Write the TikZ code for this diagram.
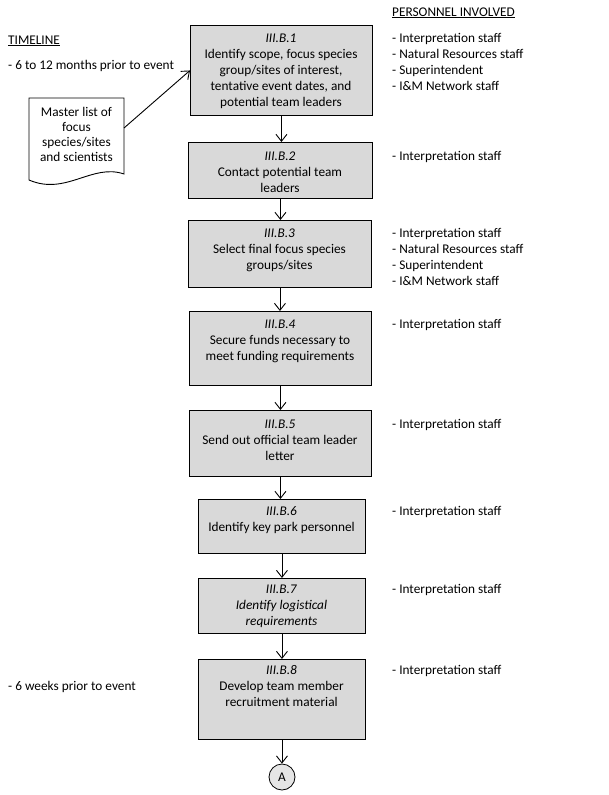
\documentclass[tikz,border=0pt]{standalone}
\usepackage{fontspec}
\setmainfont{Carlito}
\usetikzlibrary{arrows.meta}
\begin{document}
\begin{tikzpicture}[x=1pt,y=-1pt,
  every node/.style={font=\fontsize{13.3}{16}\selectfont, inner sep=0pt},
  box/.style={draw, line width=0.9pt, fill=black!15, anchor=north west},
  btxt/.style={anchor=north, align=center},
  ltxt/.style={anchor=north west, align=left},
  arr/.style={line width=0.9pt, -{Straight Barb[length=7pt,width=11pt]}}]
\useasboundingbox (0,0) rectangle (609,795);
% boxes
\node[box, minimum width=182, minimum height=90] (b1) at (190,25) {};
\node[box, minimum width=184, minimum height=56] (b2) at (188,142) {};
\node[box, minimum width=183, minimum height=67] (b3) at (188,220) {};
\node[box, minimum width=182, minimum height=74] (b4) at (189,311) {};
\node[box, minimum width=182, minimum height=66] (b5) at (189,410) {};
\node[box, minimum width=167, minimum height=54] (b6) at (198,499) {};
\node[box, minimum width=167, minimum height=55] (b7) at (198,578) {};
\node[box, minimum width=167, minimum height=80] (b8) at (198,659) {};
% box texts
\node[btxt] (t1) at (281,30.8) {\strut\textit{III.B.1}\\Identify scope, focus species\\group/sites of interest,\\tentative event dates, and\\potential team leaders};
\node[btxt] (t2) at (280,148.8) {\strut\textit{III.B.2}\\Contact potential team\\leaders};
\node[btxt] (t3) at (279.5,225.8) {\strut\textit{III.B.3}\\Select final focus species\\groups/sites};
\node[btxt] (t4) at (280,316.8) {\strut\textit{III.B.4}\\Secure funds necessary to\\meet funding requirements};
\node[btxt] (t5) at (280,416.8) {\strut\textit{III.B.5}\\Send out official team leader\\letter};
\node[btxt] (t6) at (281.5,503.8) {\strut\textit{III.B.6}\\Identify key park personnel};
\node[btxt] (t7) at (281.5,581.8) {\strut\textit{III.B.7}\\\textit{Identify logistical}\\\textit{requirements}};
\node[btxt] (t8) at (281.5,662.8) {\strut\textit{III.B.8}\\Develop team member\\recruitment material};
% connector circle
\node[draw, circle, line width=0.8pt, fill=black!10, minimum size=26] (A) at (282,777) {A};
% arrows
\draw[arr] (b1.south) -- (b1.south |- b2.north);
\draw[arr] (b2.south) -- (b2.south |- b3.north);
\draw[arr] (b3.south) -- (b3.south |- b4.north);
\draw[arr] (b4.south) -- (b4.south |- b5.north);
\draw[arr] (b5.south) -- (b5.south |- b6.north);
\draw[arr] (b6.south) -- (b6.south |- b7.north);
\draw[arr] (b7.south) -- (b7.south |- b8.north);
\draw[arr] (b8.south) -- (b8.south |- A.north);
% document shape
\draw[line width=0.9pt, fill=white] (29,98) -- (124,98) -- (124,174)
  .. controls (92,163) and (66,196) .. (29,180) -- cycle;
\node[btxt, font=\fontsize{13.3}{15}\selectfont] (doc) at (76.5,105.5) {\strut Master list of\\focus\\species/sites\\and scientists};
\coordinate (docout) at (124,128);
\draw[arr] (docout) -- (b1.west);
% timeline
\node[ltxt] (tl) at (8,32.8) {\strut\underline{TIMELINE}};
\node[ltxt] (tl1) at (8,57.8) {\strut- 6 to 12 months prior to event};
\node[ltxt] (tl2) at (8,678.8) {\strut- 6 weeks prior to event};
% personnel
\node[ltxt] (ph) at (392,4.8) {\strut\underline{PERSONNEL\ INVOLVED}};
\node[ltxt] (p1) at (392,30.8) {\strut- Interpretation staff\\- Natural Resources staff\\- Superintendent\\- I\&M Network staff};
\node[ltxt] (p2) at (392,148.8) {\strut- Interpretation staff};
\node[ltxt] (p3) at (392,225.8) {\strut- Interpretation staff\\- Natural Resources staff\\- Superintendent\\- I\&M Network staff};
\node[ltxt] (p4) at (392,316.8) {\strut- Interpretation staff};
\node[ltxt] (p5) at (392,416.8) {\strut- Interpretation staff};
\node[ltxt] (p6) at (392,503.8) {\strut- Interpretation staff};
\node[ltxt] (p7) at (392,581.8) {\strut- Interpretation staff};
\node[ltxt] (p8) at (392,662.8) {\strut- Interpretation staff};
\end{tikzpicture}
\end{document}
